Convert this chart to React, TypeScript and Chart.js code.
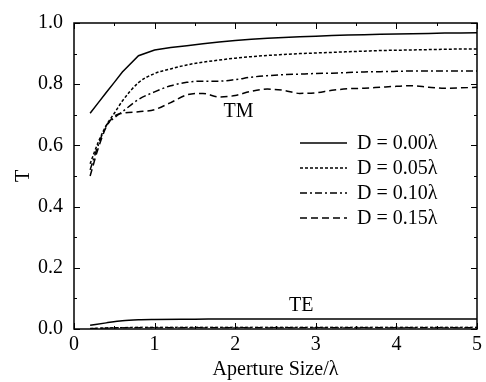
import React, { useEffect, useRef } from "react";
import { Chart, registerables } from "chart.js";

Chart.register(...registerables);

// ---- data ----
const xTM = [0.2, 0.3, 0.4, 0.5, 0.6, 0.8, 1.0, 1.2, 1.4, 1.6, 1.8, 2.0, 2.2, 2.4, 2.6, 2.8, 3.0, 3.2, 3.4, 3.6, 3.8, 4.0, 4.2, 4.4, 4.6, 4.8, 5.0];
const tmD000 = [0.705, 0.739, 0.773, 0.806, 0.84, 0.893, 0.912, 0.92, 0.926, 0.932, 0.938, 0.943, 0.947, 0.95, 0.953, 0.955, 0.957, 0.959, 0.961, 0.962, 0.963, 0.964, 0.965, 0.966, 0.967, 0.967, 0.968];
const tmD005 = [0.54, 0.61, 0.665, 0.705, 0.745, 0.805, 0.835, 0.85, 0.863, 0.872, 0.879, 0.885, 0.89, 0.894, 0.897, 0.9, 0.902, 0.904, 0.906, 0.908, 0.91, 0.911, 0.912, 0.913, 0.914, 0.915, 0.915];
const tmD010 = [0.52, 0.6, 0.665, 0.69, 0.71, 0.75, 0.775, 0.795, 0.806, 0.81, 0.81, 0.815, 0.823, 0.828, 0.831, 0.833, 0.835, 0.836, 0.838, 0.84, 0.841, 0.842, 0.843, 0.843, 0.843, 0.843, 0.843];
const tmD015 = [0.5, 0.59, 0.66, 0.695, 0.705, 0.71, 0.717, 0.74, 0.765, 0.77, 0.758, 0.763, 0.777, 0.784, 0.78, 0.77, 0.772, 0.78, 0.785, 0.787, 0.79, 0.793, 0.795, 0.79, 0.787, 0.788, 0.79];

const xTE = [0.2, 0.4, 0.6, 0.8, 1.0, 1.5, 2.0, 3.0, 4.0, 5.0];
const teD000 = [0.012, 0.02, 0.027, 0.03, 0.031, 0.032, 0.033, 0.033, 0.033, 0.033];
const teD005 = [0.002, 0.004, 0.005, 0.006, 0.006, 0.006, 0.006, 0.006, 0.006, 0.006];
const teD010 = [0.002, 0.003, 0.004, 0.005, 0.005, 0.005, 0.005, 0.005, 0.005, 0.005];
const teD015 = [0.001, 0.003, 0.004, 0.004, 0.004, 0.004, 0.004, 0.004, 0.004, 0.004];

const seriesLabels = ["D = 0.00λ", "D = 0.05λ", "D = 0.10λ", "D = 0.15λ"];
const dashes: number[][] = [[], [3, 2], [7, 3, 2, 3], [7, 4]];

const xTicks = [0, 1, 2, 3, 4, 5];
const yTicks = [0, 0.2, 0.4, 0.6, 0.8, 1.0];
const curveLabels = [
  { text: "TM", x: 2.04, y: 0.711 },
  { text: "TE", x: 2.82, y: 0.077 },
];

const FONT = "'Liberation Serif', 'DejaVu Serif', serif";
const FS = 20;

function pts(xs: number[], ys: number[]) {
  return xs.map((x, i) => ({ x, y: ys[i] }));
}

const framePlugin = {
  id: "frameTicksLegend",
  afterDatasetsDraw(chart: any) {
    const ctx = chart.ctx;
    const { left, right, top, bottom } = chart.chartArea;
    const xs = chart.scales.x;
    const ys = chart.scales.y;
    ctx.save();
    ctx.strokeStyle = "#000";
    ctx.lineWidth = 1.5;
    ctx.setLineDash([]);
    ctx.strokeRect(left, top, right - left, bottom - top);
    ctx.lineWidth = 1;
    for (let v = 0; v <= 5.0001; v += 0.5) {
      const px = Math.round(xs.getPixelForValue(v)) + 0.5;
      const major = Math.abs(v - Math.round(v)) < 1e-6;
      const len = major ? 6 : 3;
      ctx.beginPath();
      ctx.moveTo(px, bottom);
      ctx.lineTo(px, bottom - len);
      ctx.moveTo(px, top);
      ctx.lineTo(px, top + len);
      ctx.stroke();
    }
    for (let i = 0; i <= 10; i++) {
      const v = i / 10;
      const py = Math.round(ys.getPixelForValue(v)) + 0.5;
      const len = i % 2 === 0 ? 6 : 3;
      ctx.beginPath();
      ctx.moveTo(left, py);
      ctx.lineTo(left + len, py);
      ctx.moveTo(right, py);
      ctx.lineTo(right - len, py);
      ctx.stroke();
    }
    ctx.fillStyle = "#000";
    ctx.font = `${FS}px ${FONT}`;
    ctx.textAlign = "center";
    ctx.textBaseline = "middle";
    for (const c of curveLabels) {
      ctx.fillText(c.text, xs.getPixelForValue(c.x), ys.getPixelForValue(c.y));
    }
    const lx0 = 300, lx1 = 347, tx = 357;
    const rowY = [143, 168, 193, 218];
    ctx.textAlign = "left";
    ctx.lineWidth = 1.5;
    seriesLabels.forEach((lab, i) => {
      const y = rowY[i];
      ctx.setLineDash(dashes[i]);
      ctx.beginPath();
      ctx.moveTo(lx0, y);
      ctx.lineTo(lx1, y);
      ctx.stroke();
      ctx.setLineDash([]);
      ctx.fillText(lab, tx, y + 1);
    });
    ctx.restore();
  },
};

export default function App() {
  const ref = useRef<HTMLCanvasElement | null>(null);
  useEffect(() => {
    if (!ref.current) return;
    const tmSeries = [tmD000, tmD005, tmD010, tmD015];
    const teSeries = [teD000, teD005, teD010, teD015];
    const datasets: any[] = [];
    tmSeries.forEach((ys, i) => {
      datasets.push({
        label: "TM " + seriesLabels[i],
        data: pts(xTM, ys),
        borderColor: "#000",
        borderWidth: 1.5,
        borderDash: dashes[i],
        pointRadius: 0,
        fill: false,
        tension: i === 0 ? 0 : 0.3,
        cubicInterpolationMode: i === 0 ? "default" : "monotone",
      });
    });
    teSeries.forEach((ys, i) => {
      datasets.push({
        label: "TE " + seriesLabels[i],
        data: pts(xTE, ys),
        borderColor: "#000",
        borderWidth: i === 0 ? 1.5 : 1,
        borderDash: dashes[i],
        pointRadius: 0,
        fill: false,
        cubicInterpolationMode: "monotone",
      });
    });
    const chart = new Chart(ref.current, {
      type: "line",
      data: { datasets },
      plugins: [framePlugin],
      options: {
        responsive: false,
        animation: false,
        layout: { padding: { top: 19, right: 4.5, left: 0, bottom: 0 } },
        plugins: { legend: { display: false }, tooltip: { enabled: false } },
        scales: {
          x: {
            type: "linear",
            min: 0,
            max: 5,
            afterBuildTicks: (s: any) => {
              s.ticks = xTicks.map((v) => ({ value: v }));
            },
            afterFit: (s: any) => {
              s.height = 53;
            },
            ticks: {
              color: "#000",
              font: { family: FONT, size: FS },
              padding: 4,
              callback: (v: any) => String(v),
              maxRotation: 0,
            },
            grid: { display: false, drawTicks: false },
            border: { display: false },
            title: {
              display: true,
              text: "Aperture Size/λ",
              color: "#000",
              font: { family: FONT, size: FS },
              padding: { top: 0, bottom: 0 },
            },
          },
          y: {
            type: "linear",
            min: 0,
            max: 1,
            afterBuildTicks: (s: any) => {
              s.ticks = yTicks.map((v) => ({ value: v }));
            },
            afterFit: (s: any) => {
              s.width = 74;
            },
            ticks: {
              color: "#000",
              font: { family: FONT, size: FS },
              padding: 11,
              callback: (v: any) => Number(v).toFixed(1),
            },
            grid: { display: false, drawTicks: false },
            border: { display: false },
            title: {
              display: true,
              text: "T",
              color: "#000",
              font: { family: FONT, size: FS },
              padding: { top: 12, bottom: 0 },
            },
          },
        },
      } as any,
    });
    return () => chart.destroy();
  }, []);
  return (
    <div style={{ position: "fixed", left: 0, top: 0, width: 486, height: 382, background: "#fff" }}>
      <canvas ref={ref} width={486} height={382} style={{ display: "block", width: 486, height: 382 }} />
    </div>
  );
}
